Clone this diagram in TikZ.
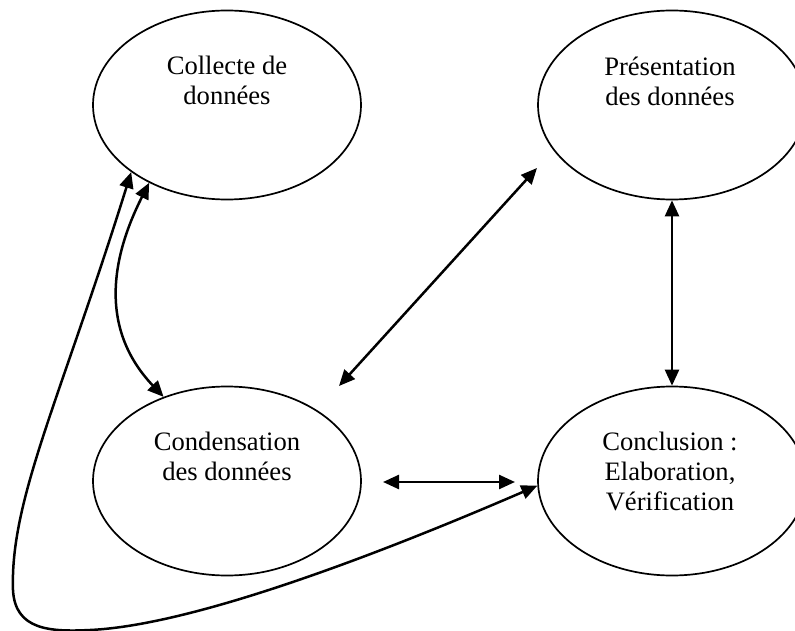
\documentclass[tikz,border=0pt]{standalone}
\usepackage{fontspec}
\setmainfont{Liberation Serif}
\usetikzlibrary{shapes.geometric,arrows.meta}
\begin{document}
\begin{tikzpicture}[x=1pt,y=-1pt,
  bubble/.style={draw,ellipse,line width=1.7pt,minimum width=268pt,minimum height=189pt,inner sep=0pt},
  txt/.style={align=center,font=\fontsize{26.6}{30}\selectfont},
  link/.style={line width=2.5pt,{Triangle[length=16pt,width=14pt]}-{Triangle[length=16pt,width=14pt]}}]
\useasboundingbox (0,0) rectangle (795,631);
\clip (0,0) rectangle (795,631);
\node[bubble] (col) at (227,105) {};
\node[bubble] (pres) at (672,105) {};
\node[bubble] (cond) at (227,481) {};
\node[bubble] (conc) at (672,481) {};
\node[txt] (colt) at (227,80) {Collecte de\\données};
\node[txt] (prest) at (670,81) {Présentation\\des données};
\node[txt] (condt) at (227,456) {Condensation\\des données};
\node[txt] (conct) at (670,471) {Conclusion :\\Elaboration,\\Vérification};
\coordinate (d1) at (537,168);
\coordinate (d2) at (339,386);
\coordinate (h1) at (383,482);
\coordinate (h2) at (515,482);
\draw[link] (d2) -- (d1);
\draw[link] (h1) -- (h2);
\draw[link] (pres.south) -- (conc.north);
\draw[link] (col.225) .. controls (110,260) and (100,330) .. (cond.127);
\draw[link] (conc.182) .. controls (400,545) and (200,625) .. (90,630)
  .. controls (50,632) and (15,630) .. (13,590)
  .. controls (10,500) and (60,400) .. (col.215);
\end{tikzpicture}
\end{document}
